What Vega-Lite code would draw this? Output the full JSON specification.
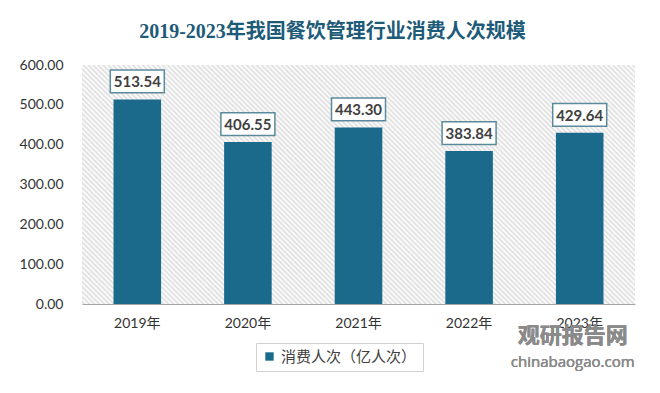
{
  "$schema": "https://vega.github.io/schema/vega-lite/v6.json",
  "width": 553,
  "height": 239,
  "autosize": {"type": "none"},
  "padding": {"left": 82, "top": 65, "right": 25, "bottom": 89},
  "background": "#ffffff",
  "title": {
    "text": "2019-2023年我国餐饮管理行业消费人次规模",
    "font": "Liberation Serif, Noto Sans CJK SC",
    "fontSize": 20,
    "fontWeight": "bold",
    "color": "#1d5b79",
    "anchor": "middle",
    "frame": "group",
    "dx": -26,
    "offset": 16
  },
  "config": {
    "axis": {"labelOverlap": false},
    "view": {"stroke": null, "fill": {"gradient": "linear", "x1": 0, "y1": 1, "x2": 1.2068, "y2": 0.4787, "stops": [
{"offset":0,"color":"#fff"},{"offset":0.003125,"color":"#ddd"},{"offset":0.00625,"color":"#fff"},{"offset":0.009375,"color":"#ddd"},{"offset":0.0125,"color":"#fff"},{"offset":0.015625,"color":"#ddd"},{"offset":0.01875,"color":"#fff"},{"offset":0.021875,"color":"#ddd"},{"offset":0.025,"color":"#fff"},{"offset":0.028125,"color":"#ddd"},{"offset":0.03125,"color":"#fff"},{"offset":0.034375,"color":"#ddd"},{"offset":0.0375,"color":"#fff"},{"offset":0.040625,"color":"#ddd"},{"offset":0.04375,"color":"#fff"},{"offset":0.046875,"color":"#ddd"},{"offset":0.05,"color":"#fff"},{"offset":0.053125,"color":"#ddd"},{"offset":0.05625,"color":"#fff"},{"offset":0.059375,"color":"#ddd"},{"offset":0.0625,"color":"#fff"},{"offset":0.065625,"color":"#ddd"},{"offset":0.06875,"color":"#fff"},{"offset":0.071875,"color":"#ddd"},{"offset":0.075,"color":"#fff"},{"offset":0.078125,"color":"#ddd"},{"offset":0.08125,"color":"#fff"},{"offset":0.084375,"color":"#ddd"},{"offset":0.0875,"color":"#fff"},{"offset":0.090625,"color":"#ddd"},{"offset":0.09375,"color":"#fff"},{"offset":0.096875,"color":"#ddd"},
{"offset":0.1,"color":"#fff"},{"offset":0.103125,"color":"#ddd"},{"offset":0.10625,"color":"#fff"},{"offset":0.109375,"color":"#ddd"},{"offset":0.1125,"color":"#fff"},{"offset":0.115625,"color":"#ddd"},{"offset":0.11875,"color":"#fff"},{"offset":0.121875,"color":"#ddd"},{"offset":0.125,"color":"#fff"},{"offset":0.128125,"color":"#ddd"},{"offset":0.13125,"color":"#fff"},{"offset":0.134375,"color":"#ddd"},{"offset":0.1375,"color":"#fff"},{"offset":0.140625,"color":"#ddd"},{"offset":0.14375,"color":"#fff"},{"offset":0.146875,"color":"#ddd"},{"offset":0.15,"color":"#fff"},{"offset":0.153125,"color":"#ddd"},{"offset":0.15625,"color":"#fff"},{"offset":0.159375,"color":"#ddd"},{"offset":0.1625,"color":"#fff"},{"offset":0.165625,"color":"#ddd"},{"offset":0.16875,"color":"#fff"},{"offset":0.171875,"color":"#ddd"},{"offset":0.175,"color":"#fff"},{"offset":0.178125,"color":"#ddd"},{"offset":0.18125,"color":"#fff"},{"offset":0.184375,"color":"#ddd"},{"offset":0.1875,"color":"#fff"},{"offset":0.190625,"color":"#ddd"},{"offset":0.19375,"color":"#fff"},{"offset":0.196875,"color":"#ddd"},
{"offset":0.2,"color":"#fff"},{"offset":0.203125,"color":"#ddd"},{"offset":0.20625,"color":"#fff"},{"offset":0.209375,"color":"#ddd"},{"offset":0.2125,"color":"#fff"},{"offset":0.215625,"color":"#ddd"},{"offset":0.21875,"color":"#fff"},{"offset":0.221875,"color":"#ddd"},{"offset":0.225,"color":"#fff"},{"offset":0.228125,"color":"#ddd"},{"offset":0.23125,"color":"#fff"},{"offset":0.234375,"color":"#ddd"},{"offset":0.2375,"color":"#fff"},{"offset":0.240625,"color":"#ddd"},{"offset":0.24375,"color":"#fff"},{"offset":0.246875,"color":"#ddd"},{"offset":0.25,"color":"#fff"},{"offset":0.253125,"color":"#ddd"},{"offset":0.25625,"color":"#fff"},{"offset":0.259375,"color":"#ddd"},{"offset":0.2625,"color":"#fff"},{"offset":0.265625,"color":"#ddd"},{"offset":0.26875,"color":"#fff"},{"offset":0.271875,"color":"#ddd"},{"offset":0.275,"color":"#fff"},{"offset":0.278125,"color":"#ddd"},{"offset":0.28125,"color":"#fff"},{"offset":0.284375,"color":"#ddd"},{"offset":0.2875,"color":"#fff"},{"offset":0.290625,"color":"#ddd"},{"offset":0.29375,"color":"#fff"},{"offset":0.296875,"color":"#ddd"},
{"offset":0.3,"color":"#fff"},{"offset":0.303125,"color":"#ddd"},{"offset":0.30625,"color":"#fff"},{"offset":0.309375,"color":"#ddd"},{"offset":0.3125,"color":"#fff"},{"offset":0.315625,"color":"#ddd"},{"offset":0.31875,"color":"#fff"},{"offset":0.321875,"color":"#ddd"},{"offset":0.325,"color":"#fff"},{"offset":0.328125,"color":"#ddd"},{"offset":0.33125,"color":"#fff"},{"offset":0.334375,"color":"#ddd"},{"offset":0.3375,"color":"#fff"},{"offset":0.340625,"color":"#ddd"},{"offset":0.34375,"color":"#fff"},{"offset":0.346875,"color":"#ddd"},{"offset":0.35,"color":"#fff"},{"offset":0.353125,"color":"#ddd"},{"offset":0.35625,"color":"#fff"},{"offset":0.359375,"color":"#ddd"},{"offset":0.3625,"color":"#fff"},{"offset":0.365625,"color":"#ddd"},{"offset":0.36875,"color":"#fff"},{"offset":0.371875,"color":"#ddd"},{"offset":0.375,"color":"#fff"},{"offset":0.378125,"color":"#ddd"},{"offset":0.38125,"color":"#fff"},{"offset":0.384375,"color":"#ddd"},{"offset":0.3875,"color":"#fff"},{"offset":0.390625,"color":"#ddd"},{"offset":0.39375,"color":"#fff"},{"offset":0.396875,"color":"#ddd"},
{"offset":0.4,"color":"#fff"},{"offset":0.403125,"color":"#ddd"},{"offset":0.40625,"color":"#fff"},{"offset":0.409375,"color":"#ddd"},{"offset":0.4125,"color":"#fff"},{"offset":0.415625,"color":"#ddd"},{"offset":0.41875,"color":"#fff"},{"offset":0.421875,"color":"#ddd"},{"offset":0.425,"color":"#fff"},{"offset":0.428125,"color":"#ddd"},{"offset":0.43125,"color":"#fff"},{"offset":0.434375,"color":"#ddd"},{"offset":0.4375,"color":"#fff"},{"offset":0.440625,"color":"#ddd"},{"offset":0.44375,"color":"#fff"},{"offset":0.446875,"color":"#ddd"},{"offset":0.45,"color":"#fff"},{"offset":0.453125,"color":"#ddd"},{"offset":0.45625,"color":"#fff"},{"offset":0.459375,"color":"#ddd"},{"offset":0.4625,"color":"#fff"},{"offset":0.465625,"color":"#ddd"},{"offset":0.46875,"color":"#fff"},{"offset":0.471875,"color":"#ddd"},{"offset":0.475,"color":"#fff"},{"offset":0.478125,"color":"#ddd"},{"offset":0.48125,"color":"#fff"},{"offset":0.484375,"color":"#ddd"},{"offset":0.4875,"color":"#fff"},{"offset":0.490625,"color":"#ddd"},{"offset":0.49375,"color":"#fff"},{"offset":0.496875,"color":"#ddd"},
{"offset":0.5,"color":"#fff"},{"offset":0.503125,"color":"#ddd"},{"offset":0.50625,"color":"#fff"},{"offset":0.509375,"color":"#ddd"},{"offset":0.5125,"color":"#fff"},{"offset":0.515625,"color":"#ddd"},{"offset":0.51875,"color":"#fff"},{"offset":0.521875,"color":"#ddd"},{"offset":0.525,"color":"#fff"},{"offset":0.528125,"color":"#ddd"},{"offset":0.53125,"color":"#fff"},{"offset":0.534375,"color":"#ddd"},{"offset":0.5375,"color":"#fff"},{"offset":0.540625,"color":"#ddd"},{"offset":0.54375,"color":"#fff"},{"offset":0.546875,"color":"#ddd"},{"offset":0.55,"color":"#fff"},{"offset":0.553125,"color":"#ddd"},{"offset":0.55625,"color":"#fff"},{"offset":0.559375,"color":"#ddd"},{"offset":0.5625,"color":"#fff"},{"offset":0.565625,"color":"#ddd"},{"offset":0.56875,"color":"#fff"},{"offset":0.571875,"color":"#ddd"},{"offset":0.575,"color":"#fff"},{"offset":0.578125,"color":"#ddd"},{"offset":0.58125,"color":"#fff"},{"offset":0.584375,"color":"#ddd"},{"offset":0.5875,"color":"#fff"},{"offset":0.590625,"color":"#ddd"},{"offset":0.59375,"color":"#fff"},{"offset":0.596875,"color":"#ddd"},
{"offset":0.6,"color":"#fff"},{"offset":0.603125,"color":"#ddd"},{"offset":0.60625,"color":"#fff"},{"offset":0.609375,"color":"#ddd"},{"offset":0.6125,"color":"#fff"},{"offset":0.615625,"color":"#ddd"},{"offset":0.61875,"color":"#fff"},{"offset":0.621875,"color":"#ddd"},{"offset":0.625,"color":"#fff"},{"offset":0.628125,"color":"#ddd"},{"offset":0.63125,"color":"#fff"},{"offset":0.634375,"color":"#ddd"},{"offset":0.6375,"color":"#fff"},{"offset":0.640625,"color":"#ddd"},{"offset":0.64375,"color":"#fff"},{"offset":0.646875,"color":"#ddd"},{"offset":0.65,"color":"#fff"},{"offset":0.653125,"color":"#ddd"},{"offset":0.65625,"color":"#fff"},{"offset":0.659375,"color":"#ddd"},{"offset":0.6625,"color":"#fff"},{"offset":0.665625,"color":"#ddd"},{"offset":0.66875,"color":"#fff"},{"offset":0.671875,"color":"#ddd"},{"offset":0.675,"color":"#fff"},{"offset":0.678125,"color":"#ddd"},{"offset":0.68125,"color":"#fff"},{"offset":0.684375,"color":"#ddd"},{"offset":0.6875,"color":"#fff"},{"offset":0.690625,"color":"#ddd"},{"offset":0.69375,"color":"#fff"},{"offset":0.696875,"color":"#ddd"},
{"offset":0.7,"color":"#fff"},{"offset":0.703125,"color":"#ddd"},{"offset":0.70625,"color":"#fff"},{"offset":0.709375,"color":"#ddd"},{"offset":0.7125,"color":"#fff"},{"offset":0.715625,"color":"#ddd"},{"offset":0.71875,"color":"#fff"},{"offset":0.721875,"color":"#ddd"},{"offset":0.725,"color":"#fff"},{"offset":0.728125,"color":"#ddd"},{"offset":0.73125,"color":"#fff"},{"offset":0.734375,"color":"#ddd"},{"offset":0.7375,"color":"#fff"},{"offset":0.740625,"color":"#ddd"},{"offset":0.74375,"color":"#fff"},{"offset":0.746875,"color":"#ddd"},{"offset":0.75,"color":"#fff"},{"offset":0.753125,"color":"#ddd"},{"offset":0.75625,"color":"#fff"},{"offset":0.759375,"color":"#ddd"},{"offset":0.7625,"color":"#fff"},{"offset":0.765625,"color":"#ddd"},{"offset":0.76875,"color":"#fff"},{"offset":0.771875,"color":"#ddd"},{"offset":0.775,"color":"#fff"},{"offset":0.778125,"color":"#ddd"},{"offset":0.78125,"color":"#fff"},{"offset":0.784375,"color":"#ddd"},{"offset":0.7875,"color":"#fff"},{"offset":0.790625,"color":"#ddd"},{"offset":0.79375,"color":"#fff"},{"offset":0.796875,"color":"#ddd"},
{"offset":0.8,"color":"#fff"},{"offset":0.803125,"color":"#ddd"},{"offset":0.80625,"color":"#fff"},{"offset":0.809375,"color":"#ddd"},{"offset":0.8125,"color":"#fff"},{"offset":0.815625,"color":"#ddd"},{"offset":0.81875,"color":"#fff"},{"offset":0.821875,"color":"#ddd"},{"offset":0.825,"color":"#fff"},{"offset":0.828125,"color":"#ddd"},{"offset":0.83125,"color":"#fff"},{"offset":0.834375,"color":"#ddd"},{"offset":0.8375,"color":"#fff"},{"offset":0.840625,"color":"#ddd"},{"offset":0.84375,"color":"#fff"},{"offset":0.846875,"color":"#ddd"},{"offset":0.85,"color":"#fff"},{"offset":0.853125,"color":"#ddd"},{"offset":0.85625,"color":"#fff"},{"offset":0.859375,"color":"#ddd"},{"offset":0.8625,"color":"#fff"},{"offset":0.865625,"color":"#ddd"},{"offset":0.86875,"color":"#fff"},{"offset":0.871875,"color":"#ddd"},{"offset":0.875,"color":"#fff"},{"offset":0.878125,"color":"#ddd"},{"offset":0.88125,"color":"#fff"},{"offset":0.884375,"color":"#ddd"},{"offset":0.8875,"color":"#fff"},{"offset":0.890625,"color":"#ddd"},{"offset":0.89375,"color":"#fff"},{"offset":0.896875,"color":"#ddd"},
{"offset":0.9,"color":"#fff"},{"offset":0.903125,"color":"#ddd"},{"offset":0.90625,"color":"#fff"},{"offset":0.909375,"color":"#ddd"},{"offset":0.9125,"color":"#fff"},{"offset":0.915625,"color":"#ddd"},{"offset":0.91875,"color":"#fff"},{"offset":0.921875,"color":"#ddd"},{"offset":0.925,"color":"#fff"},{"offset":0.928125,"color":"#ddd"},{"offset":0.93125,"color":"#fff"},{"offset":0.934375,"color":"#ddd"},{"offset":0.9375,"color":"#fff"},{"offset":0.940625,"color":"#ddd"},{"offset":0.94375,"color":"#fff"},{"offset":0.946875,"color":"#ddd"},{"offset":0.95,"color":"#fff"},{"offset":0.953125,"color":"#ddd"},{"offset":0.95625,"color":"#fff"},{"offset":0.959375,"color":"#ddd"},{"offset":0.9625,"color":"#fff"},{"offset":0.965625,"color":"#ddd"},{"offset":0.96875,"color":"#fff"},{"offset":0.971875,"color":"#ddd"},{"offset":0.975,"color":"#fff"},{"offset":0.978125,"color":"#ddd"},{"offset":0.98125,"color":"#fff"},{"offset":0.984375,"color":"#ddd"},{"offset":0.9875,"color":"#fff"},{"offset":0.990625,"color":"#ddd"},{"offset":0.99375,"color":"#fff"},{"offset":0.996875,"color":"#ddd"},
{"offset":1,"color":"#fff"}
    ]}},
    "font": "Lato, Noto Sans CJK SC"
  },
  "data": {
    "values": [
      {"year": "2019年", "value": 513.54, "series": "消费人次（亿人次）"},
      {"year": "2020年", "value": 406.55, "series": "消费人次（亿人次）"},
      {"year": "2021年", "value": 443.30, "series": "消费人次（亿人次）"},
      {"year": "2022年", "value": 383.84, "series": "消费人次（亿人次）"},
      {"year": "2023年", "value": 429.64, "series": "消费人次（亿人次）"}
    ]
  },
  "layer": [
    {
      "mark": {"type": "bar"},
      "encoding": {
        "x": {
          "field": "year", "type": "nominal", "sort": null,
          "scale": {"paddingInner": 0.57, "paddingOuter": 0.285},
          "axis": {
            "title": null, "labelAngle": 0, "ticks": false,
            "domainColor": "#a6a6a6", "domainWidth": 1.2,
            "labelFontSize": 14, "labelColor": "#333333", "labelPadding": 12,
            "labelFont": "Lato, Noto Sans CJK SC"
          }
        },
        "y": {
          "field": "value", "type": "quantitative",
          "scale": {"domain": [0, 600], "nice": false},
          "axis": {
            "title": null, "values": [0, 100, 200, 300, 400, 500, 600],
            "tickCount": 12,
            "format": ".2f", "grid": false, "domain": false, "ticks": false,
            "labelOverlap": false,
            "labelFontSize": 14, "labelColor": "#333333", "labelPadding": 19,
            "labelFont": "Lato, Noto Sans CJK SC"
          }
        },
        "color": {
          "field": "series", "type": "nominal",
          "scale": {"range": ["#1b6a8c"]},
          "legend": {
            "title": null, "orient": "none", "legendX": 174, "legendY": 278,
            "symbolType": "square", "symbolSize": 70,
            "labelFontSize": 15, "labelColor": "#404040",
            "labelFont": "Noto Sans CJK SC",
            "strokeColor": "#d0d0d0", "padding": 6
          }
        }
      }
    },
    {
      "mark": {
        "type": "point", "shape": "M-1,-0.42H1V0.42H-1Z", "size": 2916,
        "filled": true, "fill": "#ffffff", "stroke": "#5b8a9c",
        "strokeWidth": 1.5, "opacity": 1, "yOffset": -18
      },
      "encoding": {
        "x": {"field": "year", "type": "nominal", "sort": null},
        "y": {"field": "value", "type": "quantitative"}
      }
    },
    {
      "mark": {
        "type": "text", "fontSize": 15, "fontWeight": "bold",
        "color": "#404040", "baseline": "middle", "yOffset": -17
      },
      "encoding": {
        "x": {"field": "year", "type": "nominal", "sort": null},
        "y": {"field": "value", "type": "quantitative"},
        "text": {"field": "value", "type": "quantitative", "format": ".2f"}
      }
    },
    {
      "mark": {
        "type": "text", "text": "观研报告网", "fontSize": 22, "fontWeight": "bold",
        "font": "Noto Sans CJK SC", "color": "#8a8a8a", "opacity": 0.7,
        "baseline": "middle", "xOffset": -7, "yOffset": 32
      },
      "encoding": {
        "x": {"datum": "2023年", "type": "nominal"},
        "y": {"datum": 0, "type": "quantitative"}
      }
    },
    {
      "mark": {
        "type": "text", "text": "chinabaogao.com", "fontSize": 15,
        "font": "Open Sans", "color": "#8a8a8a", "opacity": 0.7,
        "baseline": "middle", "xOffset": -7, "yOffset": 58
      },
      "encoding": {
        "x": {"datum": "2023年", "type": "nominal"},
        "y": {"datum": 0, "type": "quantitative"}
      }
    }
  ]
}
